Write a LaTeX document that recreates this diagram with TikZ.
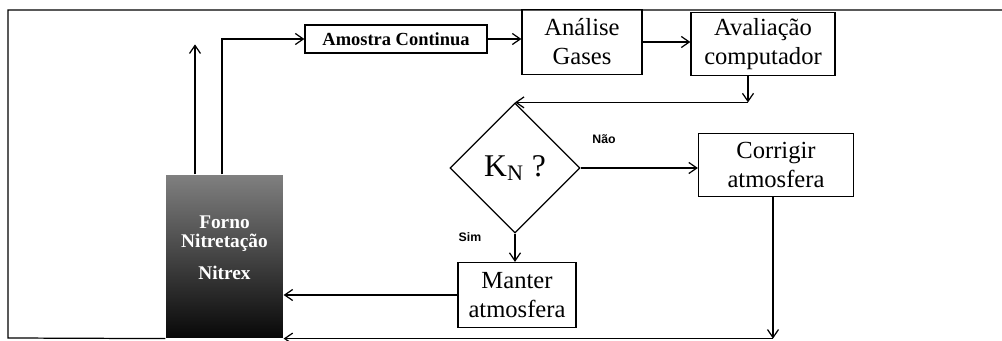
\documentclass[tikz,border=0pt]{standalone}
\usepackage{fontspec}
\setmainfont{Liberation Serif}
\newfontfamily\labelfont{Liberation Sans}
\usetikzlibrary{calc}
\usetikzlibrary{positioning, shapes.geometric, arrows.meta}

\begin{document}
\begin{tikzpicture}[>={Straight Barb[length=1.6mm, width=2.2mm]}, x=0.02cm, y=-0.02cm, line width=0.7pt]

        % --- Définition des styles ---
        \tikzset{
            flow/.style={->},
            procbox/.style={draw, align=center, inner sep=2pt, font=\fontsize{14}{16.5}\selectfont},
            samplebox/.style={draw, align=center, inner sep=2pt, font=\fontsize{10.5}{12}\selectfont\bfseries},
            decision/.style={draw, diamond, aspect=1, inner sep=0pt, minimum width=2.6cm, minimum height=2.6cm, font=\fontsize{18}{20}\selectfont},
            furnace/.style={minimum width=2.34cm, minimum height=3.26cm, inner sep=0pt, top color=black!50, middle color=black!72, bottom color=black!97},
            furnacetext/.style={text=white, align=center, font=\fontsize{11}{11}\selectfont\bfseries},
            answer/.style={font=\labelfont\fontsize{7}{8}\selectfont\bfseries}
        }
        \useasboundingbox (0,0) rectangle (1002,341);

        % --- Four ---
        \node[furnace] (forno) at (224.5,256.5) {};
        \node[furnacetext] (fornotxt) at ($(forno.center)+(0,-9)$) {Forno\\Nitretação\\[7pt]Nitrex};

        % --- Cadre ---
        \draw (1002,10) -- (8,10) -- (8,338) -- (forno.south west);

        % --- Boîtes ---
        \node[samplebox, minimum width=3.64cm, minimum height=0.56cm] (amostra) at (396,39) {Amostra Continua};
        \node[procbox, minimum width=2.4cm, minimum height=1.3cm] (analise) at (582,42) {Análise\\Gases};
        \node[procbox, minimum width=2.88cm, minimum height=1.26cm] (avaliacao) at (763,44) {Avaliação\\computador};
        \node[decision] (kn) at (515,168) {K\textsubscript{N} ?};
        \node[procbox, minimum width=3.1cm, minimum height=1.26cm] (corrigir) at (776,165) {Corrigir\\atmosfera};
        \node[procbox, minimum width=2.36cm, minimum height=1.3cm] (manter) at (517,295) {Manter\\atmosfera};

        % --- Réponses ---
        \node[answer] (nao) at (604,139) {Não};
        \node[answer] (sim) at (470,237) {Sim};

        % --- Connexions ---
        \draw[flow] ($(forno.north)+(-29.5,0)$) -- ++(0,-130);
        \draw[flow] ($(forno.north)+(-2.5,0)$) |- (amostra.west);
        \draw[flow] (amostra.east) -- (amostra.east -| analise.west);
        \draw[flow] (analise.east) -- (analise.east -| avaliacao.west);

        \coordinate (avalout) at ($(avaliacao.south)+(-15,0)$);
        \coordinate (avalturn) at (avalout |- kn.north);
        \draw[flow] (avalout) -- (avalturn);
        \draw[flow] (avalturn) -- (kn.north);

        \draw[flow] (kn.east) -- (kn.east -| corrigir.west);
        \draw[flow] (kn.south) -- (kn.south |- manter.north);
        \draw[flow] (manter.west) -- (manter.west -| forno.east);

        \coordinate (corrout) at ($(corrigir.south)+(-3,0)$);
        \coordinate (retour) at (corrout |- forno.south);
        \draw[flow] (corrout) -- (retour);
        \draw[flow] (retour) -- (forno.south east);

\end{tikzpicture}
\end{document}
